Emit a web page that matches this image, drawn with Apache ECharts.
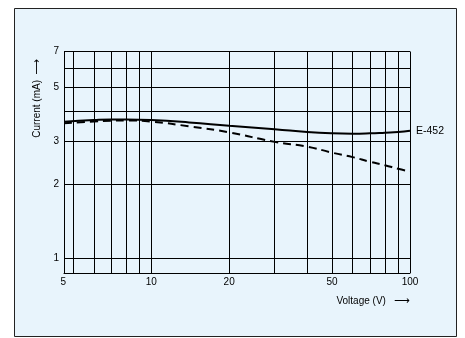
<!DOCTYPE html>
<html>
<head>
<meta charset="utf-8">
<script src="https://cdn.jsdelivr.net/npm/echarts@6/dist/echarts.min.js"></script>
<style>
html,body{margin:0;padding:0;background:#fff;}
#c{width:465px;height:338px;}
</style>
</head>
<body>
<div id="c"></div>
<script>
// Data
const voltage = [4.6, 6, 7, 8, 10, 14, 20, 30, 40, 50, 60, 70, 80, 90, 100];
const currentE452 = [3.61, 3.67, 3.69, 3.69, 3.67, 3.59, 3.48, 3.37, 3.28, 3.24, 3.23, 3.24, 3.26, 3.28, 3.32];
const currentDashed = [3.56, 3.62, 3.65, 3.66, 3.62, 3.46, 3.27, 2.99, 2.86, 2.70, 2.59, 2.48, 2.40, 2.32, 2.26];
const xGridValues = [5, 6, 7, 8, 9, 10, 20, 30, 40, 50, 60, 70, 80, 90, 100];
const xTickLabels = [5, 10, 20, 50, 100];
const yGridValues = [1, 2, 3, 4, 5, 6, 7];
const yTickLabels = [1, 2, 3, 5, 7];
const seriesName = 'E-452';

const pair = (xs, ys) => xs.map((x, i) => [x, ys[i]]);

const chart = echarts.init(document.getElementById('c'), null, {renderer: 'canvas'});
const font = 'Liberation Sans, Arial, sans-serif';
const arrowStyle = {fontFamily: 'DejaVu Sans', fontSize: 11, color: '#000'};
chart.setOption({
  animation: false,
  backgroundColor: '#fff',
  graphic: [{
    type: 'rect', z: -10, silent: true,
    shape: {x: 14.5, y: 8.5, width: 442, height: 328},
    style: {fill: '#e8f4fc', stroke: '#222', lineWidth: 1}
  }],
  grid: {left: 64, right: 55, top: 51.5, bottom: 65, show: false},
  xAxis: {
    type: 'log', logBase: 10, min: 4.6, max: 100,
    axisLine: {show: true, onZero: false, lineStyle: {color: '#000', width: 1}},
    axisTick: {show: false, customValues: xGridValues},
    splitLine: {show: true, lineStyle: {color: '#000', width: 1}},
    axisLabel: {
      customValues: xTickLabels, color: '#000', fontSize: 10, fontFamily: font, margin: 4,
      formatter: v => (v === xTickLabels[0] ? '{first|' + v + '}' : String(v)),
      rich: {first: {color: '#000', fontSize: 10, fontFamily: font, padding: [0, 20, 0, 0]}}
    },
    name: 'Voltage (V)   {arr|\u27F6}',
    nameLocation: 'end', nameGap: 0,
    nameTextStyle: {color: '#000', fontSize: 10, fontFamily: font, align: 'right', verticalAlign: 'top', padding: [23, 0, 0, 0], rich: {arr: arrowStyle}}
  },
  yAxis: {
    type: 'log', logBase: 10, min: 0.87, max: 7,
    axisLine: {show: true, onZero: false, lineStyle: {color: '#000', width: 1}},
    axisTick: {show: false, customValues: yGridValues},
    splitLine: {show: true, lineStyle: {color: '#000', width: 1}},
    axisLabel: {customValues: yTickLabels, color: '#000', fontSize: 10, fontFamily: font, margin: 5},
    name: 'Current (mA)  {arr|\u27F6}',
    nameLocation: 'middle', nameGap: 21, nameRotate: 90,
    nameTextStyle: {color: '#000', fontSize: 10, fontFamily: font, padding: [0, 0, 0, 128], rich: {arr: arrowStyle}}
  },
  series: [
    {
      name: seriesName, type: 'line', smooth: true, symbol: 'none',
      data: pair(voltage, currentE452),
      lineStyle: {color: '#000', width: 2},
      endLabel: {show: true, formatter: seriesName, color: '#000', fontSize: 10.5, fontFamily: font, distance: 6}
    },
    {
      name: 'dashed', type: 'line', smooth: true, symbol: 'none',
      data: pair(voltage, currentDashed),
      lineStyle: {color: '#000', width: 2, type: [8, 5]}
    }
  ]
});
</script>
</body>
</html>
